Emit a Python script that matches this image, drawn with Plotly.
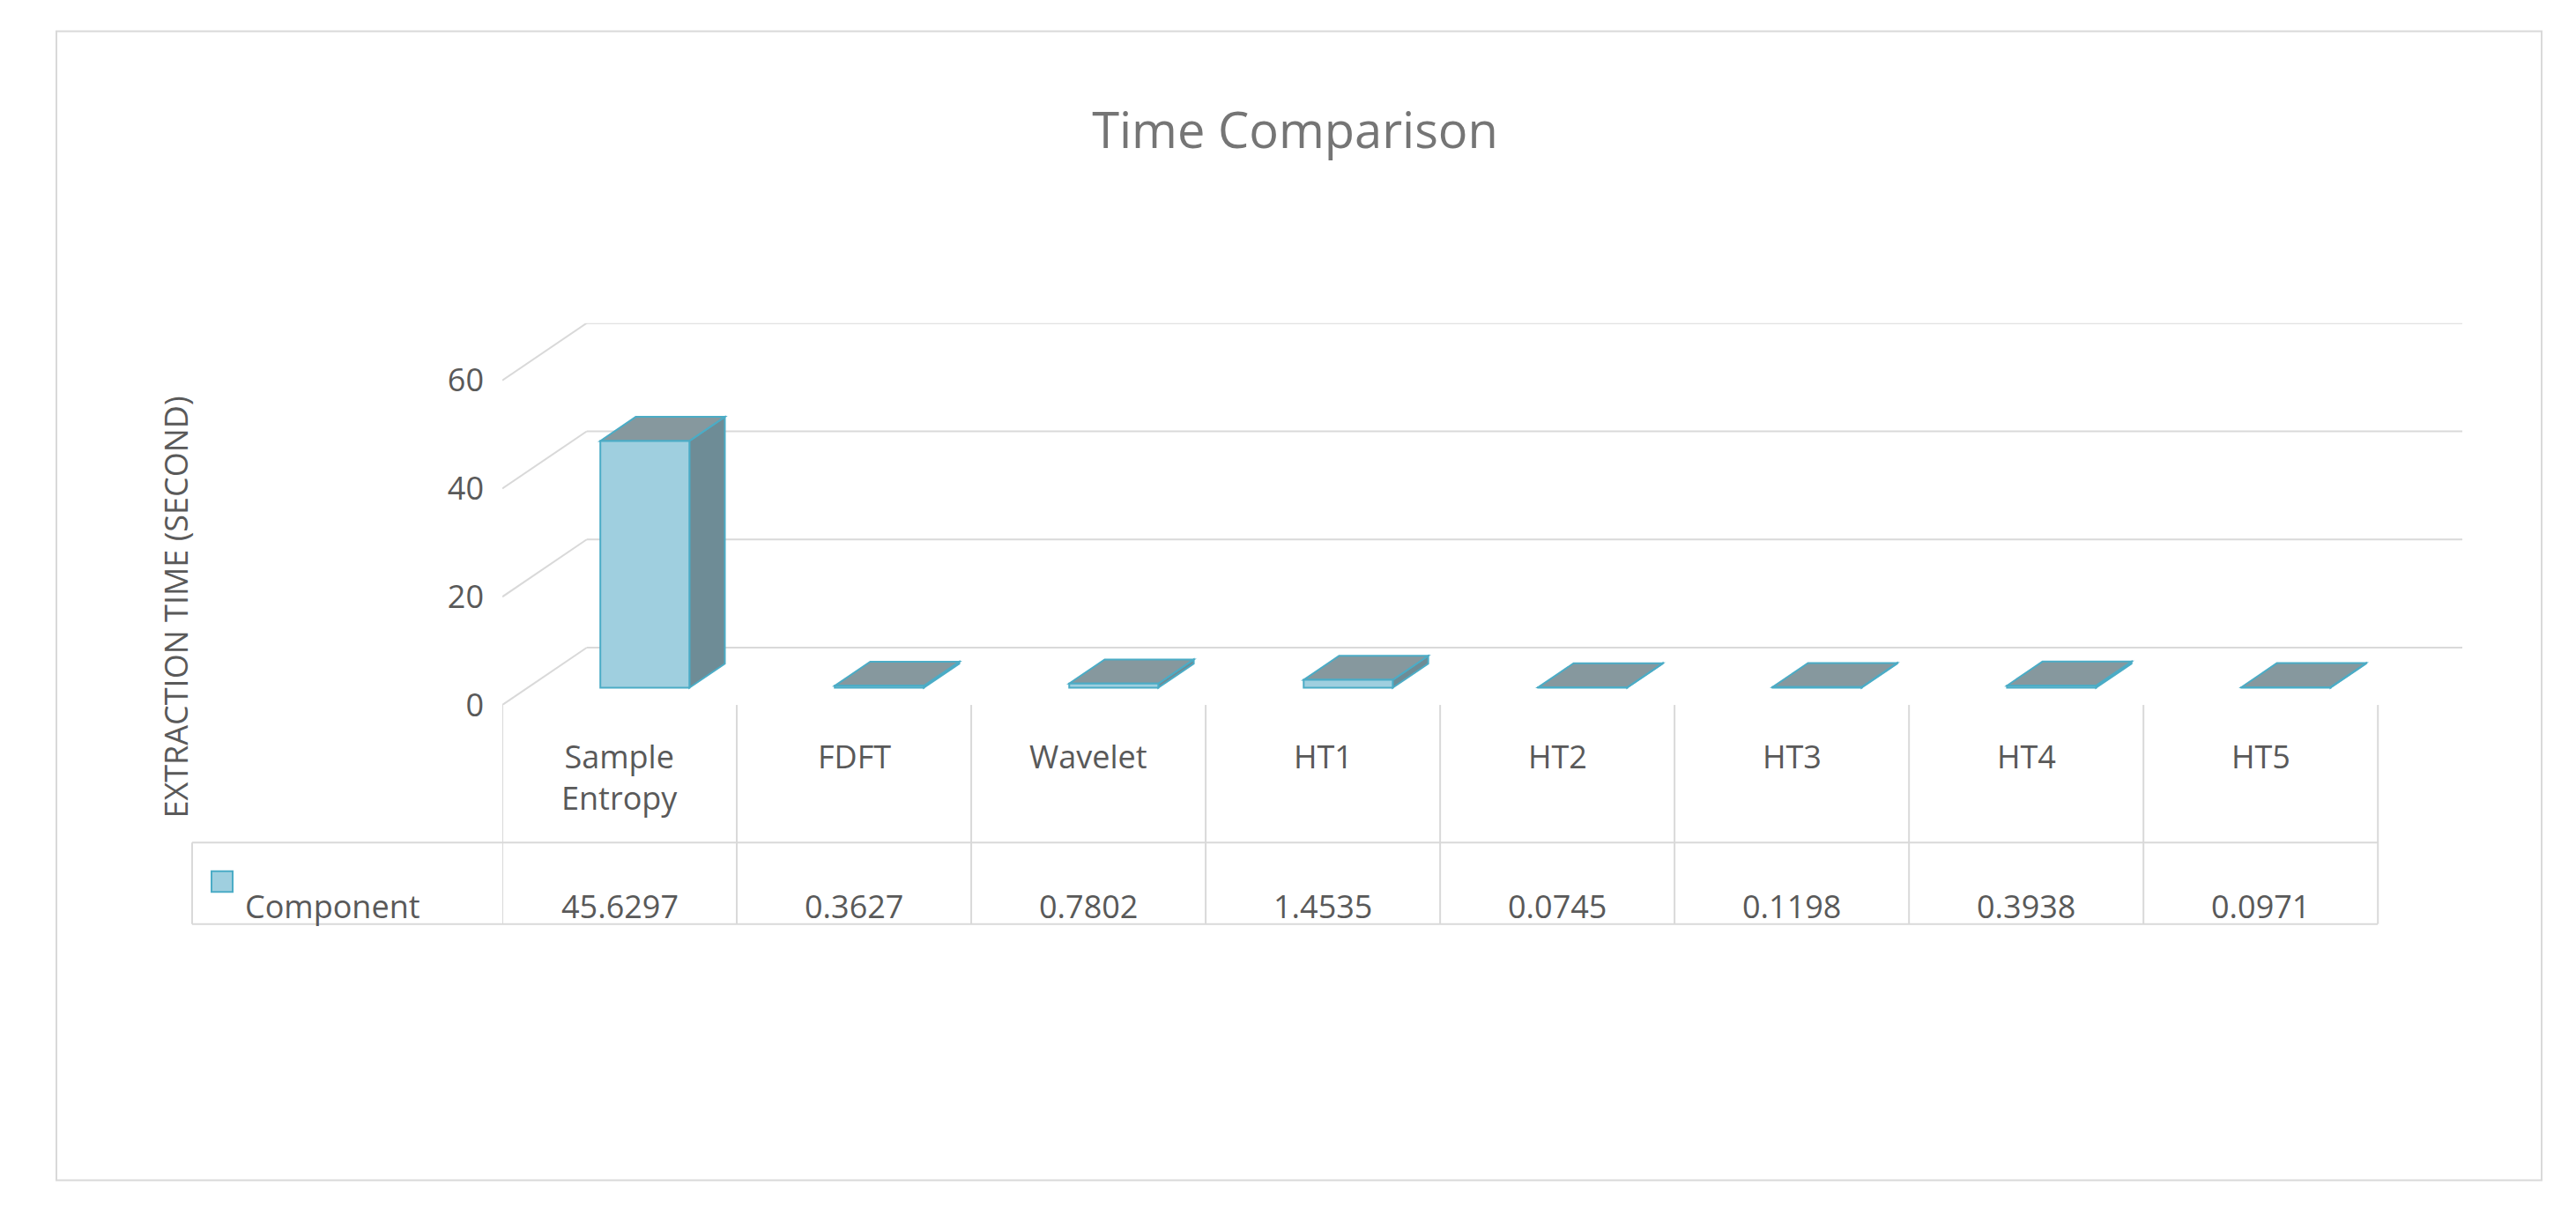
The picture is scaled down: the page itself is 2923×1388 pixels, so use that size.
import plotly.graph_objects as go

categories = ["Sample<br>Entropy", "FDFT", "Wavelet", "HT1", "HT2", "HT3", "HT4", "HT5"]
values = [45.6297, 0.3627, 0.7802, 1.4535, 0.0745, 0.1198, 0.3938, 0.0971]
value_labels = ["45.6297", "0.3627", "0.7802", "1.4535", "0.0745", "0.1198", "0.3938", "0.0971"]
series_name = "Component"
y_ticks = [0, 20, 40, 60]

W, H = 2923, 1388
def px_x(p): return p / W
def px_y(p): return 1 - p / H

DX, DY = 0.36, 10.6          # depth offset in data units
A, B = 0.30, 0.72            # bar front/back depth fractions
HW = 0.19                    # half bar width
n = len(categories)

fig = go.Figure()
# invisible trace to establish the axes
fig.add_trace(go.Scatter(x=[0, n + DX], y=[0, 60 + DY], mode="markers",
                         marker=dict(opacity=0), hoverinfo="skip", showlegend=False))

grid = "#d9d9d9"
shapes = []
for v in y_ticks:
    shapes.append(dict(type="line", xref="x", yref="y", x0=0, y0=v, x1=DX, y1=v + DY,
                       line=dict(color=grid, width=2)))
    shapes.append(dict(type="line", xref="x", yref="y", x0=DX, y0=v + DY, x1=n + DX, y1=v + DY,
                       line=dict(color=grid, width=2)))

edge = "#4bacc6"
for i, v in enumerate(values):
    x0 = i + 0.5 - HW + A * DX
    x1 = i + 0.5 + HW + A * DX
    yb = A * DY
    bx = (B - A) * DX
    by = (B - A) * DY
    # side face
    shapes.append(dict(type="path", xref="x", yref="y",
                       path=f"M{x1},{yb} L{x1+bx},{yb+by} L{x1+bx},{yb+by+v} L{x1},{yb+v} Z",
                       fillcolor="#6e8c96", line=dict(color=edge, width=2)))
    # top face
    shapes.append(dict(type="path", xref="x", yref="y",
                       path=f"M{x0},{yb+v} L{x1},{yb+v} L{x1+bx},{yb+by+v} L{x0+bx},{yb+by+v} Z",
                       fillcolor="#86989e", line=dict(color=edge, width=2)))
    # front face
    shapes.append(dict(type="rect", xref="x", yref="y", x0=x0, x1=x1, y0=yb, y1=yb + v,
                       fillcolor="#9fcfdf", line=dict(color=edge, width=2)))

# data table
t_top, t_mid, t_bot = 806, 965, 1059
tcol = "#d9d9d9"
for i in range(n + 1):
    shapes.append(dict(type="line", xref="x", yref="paper", x0=i, x1=i,
                       y0=px_y(t_top), y1=px_y(t_bot), line=dict(color=tcol, width=2)))
shapes.append(dict(type="line", xref="paper", yref="paper", x0=px_x(210), x1=px_x(210),
                   y0=px_y(t_mid), y1=px_y(t_bot), line=dict(color=tcol, width=2)))
shapes.append(dict(type="line", xref="paper", yref="paper", x0=px_x(210), x1=px_x(2690),
                   y0=px_y(t_mid), y1=px_y(t_mid), line=dict(color=tcol, width=2)))
shapes.append(dict(type="line", xref="paper", yref="paper", x0=px_x(210), x1=px_x(2690),
                   y0=px_y(t_bot), y1=px_y(t_bot), line=dict(color=tcol, width=2)))
# legend key
shapes.append(dict(type="rect", xref="paper", yref="paper", x0=px_x(232), x1=px_x(256),
                   y0=px_y(1022), y1=px_y(998), fillcolor="#9fcfdf", line=dict(color=edge, width=2)))
# outer border
shapes.append(dict(type="rect", xref="paper", yref="paper", x0=px_x(56), x1=px_x(2876),
                   y0=px_y(1355), y1=px_y(28), line=dict(color="#d9d9d9", width=2)))

font = "Open Sans, sans-serif"
txt = "#595959"
ann = []
for i, c in enumerate(categories):
    ann.append(dict(x=i + 0.5, xref="x", y=px_y(838), yref="paper", text=c, showarrow=False,
                    yanchor="top", font=dict(size=36, color=txt, family=font)))
    ann.append(dict(x=i + 0.5, xref="x", y=px_y(1012), yref="paper", text=value_labels[i],
                    showarrow=False, yanchor="middle", yshift=-26,
                    font=dict(size=36, color=txt, family=font)))
ann.append(dict(x=px_x(268), xref="paper", y=px_y(1012), yref="paper", text=series_name,
                showarrow=False, xanchor="left", yanchor="middle", yshift=-26,
                font=dict(size=36, color=txt, family=font)))
ann.append(dict(x=px_x(165), xref="paper", y=px_y(693), yref="paper", text="EXTRACTION TIME (SECOND)",
                showarrow=False, textangle=-90, font=dict(size=36, color=txt, family=font)))

fig.update_layout(
    width=W, height=H, margin=dict(l=0, r=0, t=0, b=0),
    paper_bgcolor="white", plot_bgcolor="white",
    title=dict(text="Time Comparison", x=0.5, y=px_y(140), yanchor="middle",
               font=dict(size=56, color="#757575", family=font)),
    xaxis=dict(domain=[px_x(562), px_x(2786)], range=[0, n + DX], visible=False, fixedrange=True),
    yaxis=dict(domain=[px_y(806), px_y(365)], range=[0, 60 + DY], tickvals=y_ticks,
               showgrid=False, zeroline=False, showline=False, ticks="", ticklabelstandoff=20,
               tickfont=dict(size=36, color=txt, family=font)),
    shapes=shapes, annotations=ann, showlegend=False,
)

fig.write_html("out.html")
